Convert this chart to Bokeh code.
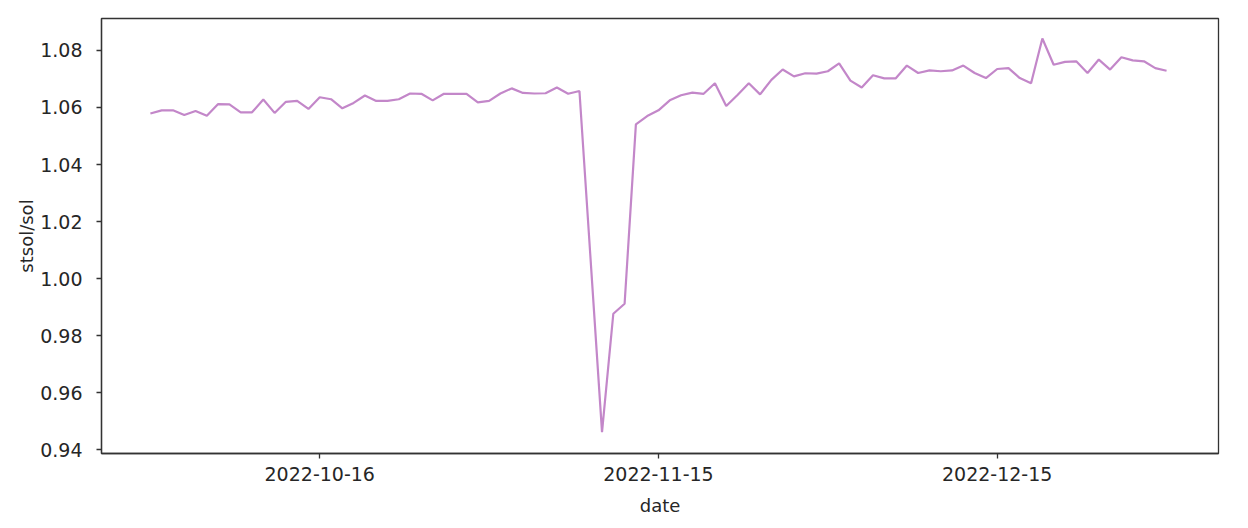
from datetime import datetime, timedelta
from bokeh.plotting import figure
from bokeh.models import ColumnDataSource, FixedTicker, DatetimeTickFormatter, NumeralTickFormatter, Range1d
from bokeh.embed import file_html
from bokeh.resources import INLINE

# Data: stSOL/SOL daily ratio (2022-10-01 .. 2022-12-30, 2022-11-09 missing)
day_offsets = list(range(0, 39)) + list(range(40, 91))
ratio = [
    1.0579, 1.0590, 1.0590, 1.0574, 1.0588, 1.0571, 1.0612, 1.0611, 1.0583, 1.0583,
    1.0628, 1.0581, 1.0620, 1.0623, 1.0595, 1.0636, 1.0629, 1.0597, 1.0616, 1.0642,
    1.0623, 1.0623, 1.0629, 1.0649, 1.0648, 1.0625, 1.0648, 1.0648, 1.0648, 1.0618,
    1.0623, 1.0649, 1.0667, 1.0651, 1.0649, 1.0650, 1.0670, 1.0648, 1.0658,
    0.9462, 0.9877, 0.9912, 1.0541, 1.0570, 1.0590, 1.0625, 1.0643, 1.0652, 1.0648,
    1.0685, 1.0605, 1.0644, 1.0685, 1.0646, 1.0697, 1.0733, 1.0709, 1.0720, 1.0719,
    1.0727, 1.0755, 1.0694, 1.0670, 1.0713, 1.0702, 1.0702, 1.0747, 1.0721, 1.0730,
    1.0727, 1.0730, 1.0747, 1.0721, 1.0703, 1.0735, 1.0738, 1.0703, 1.0685, 1.0842,
    1.0750, 1.0760, 1.0762, 1.0721, 1.0768, 1.0733, 1.0776, 1.0765, 1.0762, 1.0738,
    1.0729,
]
start_date = datetime(2022, 10, 1)
dates = [start_date + timedelta(days=d) for d in day_offsets]

x_tick_labels = ["2022-10-16", "2022-11-15", "2022-12-15"]
y_ticks = [0.94, 0.96, 0.98, 1.00, 1.02, 1.04, 1.06, 1.08]

source = ColumnDataSource(dict(date=dates, ratio=ratio))

x_start = datetime(2022, 10, 16) - timedelta(days=19.33)
x_end = datetime(2022, 12, 15) + timedelta(days=19.6)

p = figure(
    width=1240, height=520,
    x_axis_type="datetime",
    x_range=Range1d(x_start, x_end),
    y_range=Range1d(0.9387, 1.0912),
    output_backend="svg", toolbar_location=None,
    min_border_left=101, min_border_right=22, min_border_top=18, min_border_bottom=67,
)
p.line("date", "ratio", source=source, line_color="#c387c9", line_width=2.2)

epoch = datetime(1970, 1, 1)
tick_ms = [(datetime.strptime(s, "%Y-%m-%d") - epoch).total_seconds() * 1000 for s in x_tick_labels]
p.xaxis.ticker = FixedTicker(ticks=tick_ms)
p.xaxis.formatter = DatetimeTickFormatter(days="%Y-%m-%d", months="%Y-%m-%d", years="%Y-%m-%d")
p.yaxis.ticker = FixedTicker(ticks=y_ticks)
p.yaxis.formatter = NumeralTickFormatter(format="0.00")

p.xaxis.axis_label = "date"
p.yaxis.axis_label = "stsol/sol"

p.xgrid.visible = False
p.ygrid.visible = False
p.outline_line_color = "#333333"
p.outline_line_width = 1.3
p.outline_line_alpha = 1.0

for ax in (p.xaxis, p.yaxis):
    ax.axis_line_color = "#333333"
    ax.axis_line_width = 1.3
    ax.major_tick_line_color = "#333333"
    ax.major_tick_line_width = 1.3
    ax.major_tick_out = 5
    ax.major_tick_in = 0
    ax.minor_tick_line_color = None
    ax.major_label_text_font = "DejaVu Sans"
    ax.major_label_text_font_size = "19px"
    ax.major_label_text_color = "#262626"
    ax.axis_label_text_font = "DejaVu Sans"
    ax.axis_label_text_font_size = "18px"
    ax.axis_label_text_font_style = "normal"
    ax.axis_label_text_color = "#262626"

p.yaxis.major_label_standoff = 14
p.xaxis.major_label_standoff = 8
p.yaxis.axis_label_standoff = 0
p.xaxis.axis_label_standoff = 11

open("out.html", "w").write(file_html(p, INLINE))
